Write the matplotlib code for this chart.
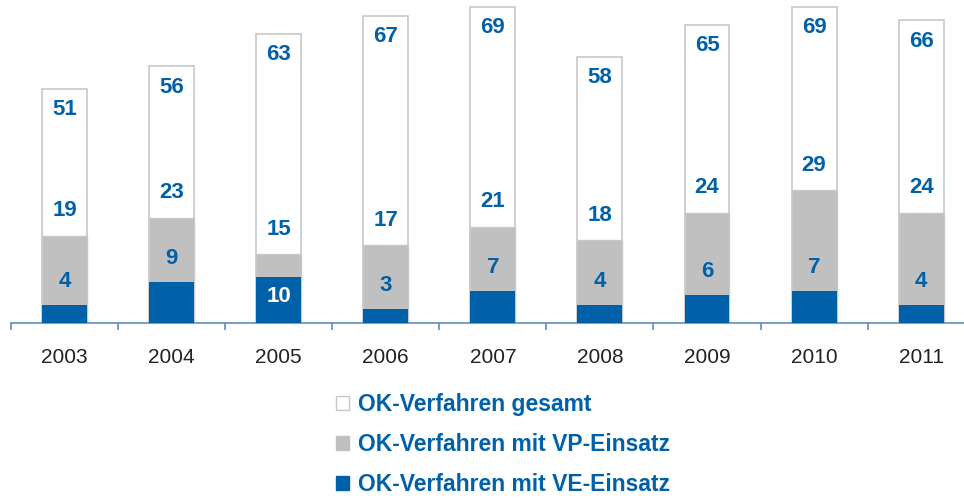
import numpy as np
import matplotlib.pyplot as plt
from matplotlib.patches import Patch

plt.rcParams['font.family'] = ['Liberation Sans', 'DejaVu Sans']

years = ["2003", "2004", "2005", "2006", "2007", "2008", "2009", "2010", "2011"]
gesamt = [51, 56, 63, 67, 69, 58, 65, 69, 66]
vp = [19, 23, 15, 17, 21, 18, 24, 29, 24]
ve = [4, 9, 10, 3, 7, 4, 6, 7, 4]

BLUE = "#0061a8"
GRAY = "#c0c0c0"
EDGE = "#c8c8c8"

fig = plt.figure(figsize=(9.64, 4.99), dpi=100)
ax = fig.add_axes([0.0114, 0.3527, 0.9886, 0.647])

x = np.arange(len(years))
w = 0.42
ax.bar(x, gesamt, w, color="white", edgecolor=EDGE, linewidth=1.2, zorder=1)
ax.bar(x, vp, w, color=GRAY, edgecolor=EDGE, linewidth=1.0, zorder=2)
ax.bar(x, ve, w, color=BLUE, linewidth=0, zorder=3)

lab = dict(ha="center", va="center", fontsize=16, fontweight="bold",
           textcoords="offset points", zorder=5)
for i in range(len(years)):
    ax.annotate(str(gesamt[i]), (x[i], gesamt[i]), xytext=(0, -15), color=BLUE, **lab)
    ax.annotate(str(vp[i]), (x[i], vp[i]), xytext=(0, 18), color=BLUE, **lab)
    if vp[i] - ve[i] < 8:
        ax.annotate(str(ve[i]), (x[i], ve[i]), xytext=(0, -14), color="white", **lab)
    else:
        ax.annotate(str(ve[i]), (x[i], ve[i]), xytext=(0, 17), color=BLUE, **lab)

ax.set_xlim(-0.5, 8.4)
ax.set_ylim(0, 70.4)
for s in ["top", "right", "left"]:
    ax.spines[s].set_visible(False)
ax.spines["bottom"].set_color("#5b8ec4")
ax.spines["bottom"].set_linewidth(1.2)
ax.set_yticks([])
ax.set_xticks(x)
ax.set_xticklabels(years, fontsize=15, color="#222222")
ax.tick_params(axis="x", length=0, pad=18)
ax.set_xticks(np.arange(-0.5, 8.5, 1), minor=True)
ax.tick_params(axis="x", which="minor", length=5, width=1.2, color="#5b8ec4")

handles = [Patch(facecolor="white", edgecolor=EDGE, label="OK-Verfahren gesamt"),
           Patch(facecolor=GRAY, edgecolor=GRAY, label="OK-Verfahren mit VP-Einsatz"),
           Patch(facecolor=BLUE, edgecolor=BLUE, label="OK-Verfahren mit VE-Einsatz")]
fig.legend(handles=handles, loc="upper left", bbox_to_anchor=(0.349, 0.213),
           frameon=False, handlelength=0.55, handleheight=0.55, handletextpad=0.4,
           labelspacing=0.75, borderaxespad=0, borderpad=0,
           prop={"size": 16.5, "weight": "bold"}, labelcolor=BLUE)

fig.savefig("out.png", dpi=100)
